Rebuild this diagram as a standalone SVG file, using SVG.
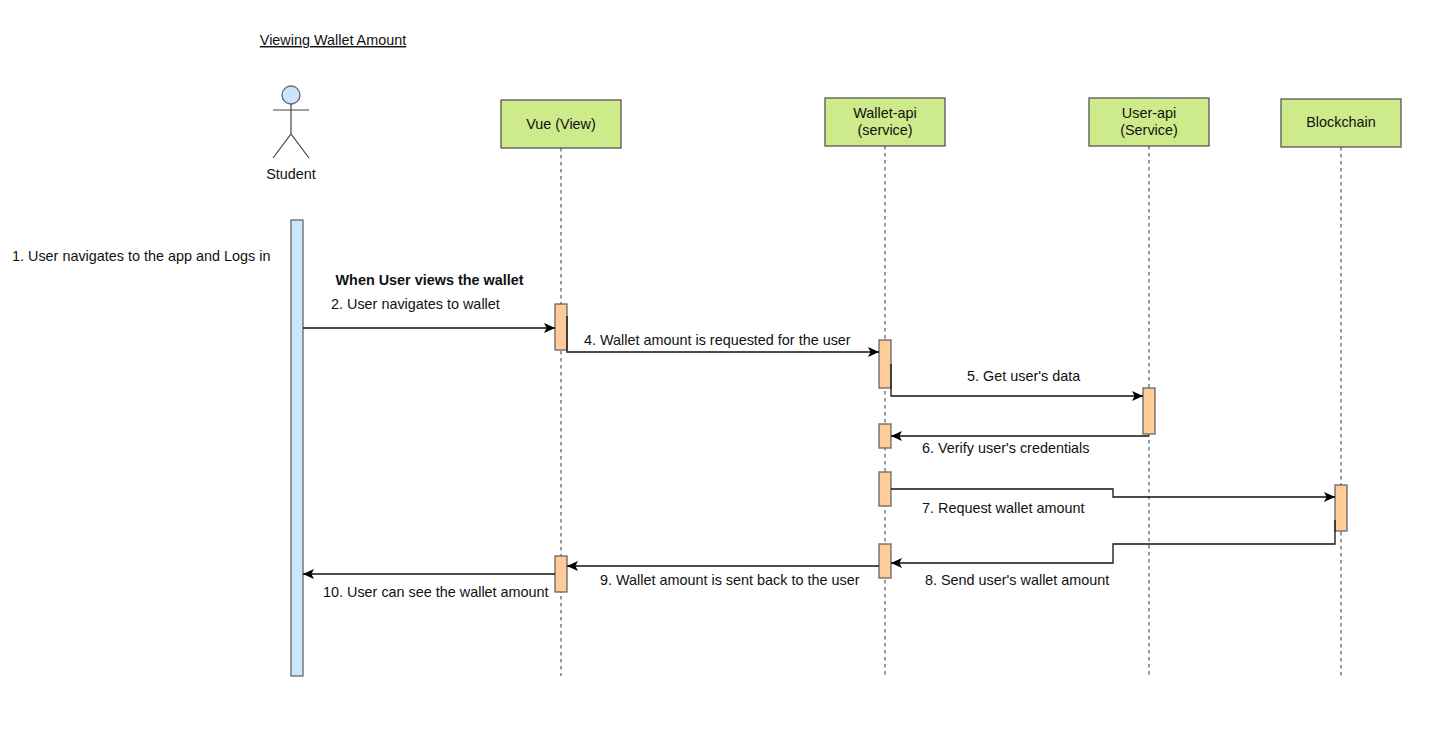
<svg xmlns="http://www.w3.org/2000/svg" width="1442" height="737" viewBox="0 0 1442 737">
<defs>
<marker id="arrow" markerUnits="userSpaceOnUse" markerWidth="14" markerHeight="14" refX="11" refY="7" orient="auto">
<path d="M0,2 L11,7 L0,12 L2.6,7 Z" fill="#000"/>
</marker>
</defs>
<style>
text{font-family:"Liberation Sans",Arial,sans-serif;font-size:14.4px;fill:#111}
.m{text-anchor:middle}
.head{fill:#cdeb8b;stroke:#555;stroke-width:1.3}
.life{stroke:#666;stroke-width:1.3;stroke-dasharray:3.5 3.5;fill:none}
.act{fill:#ffcc99;stroke:#666;stroke-width:1.3}
.actor{fill:#cce5ff;stroke:#666;stroke-width:1.3}
.stick{fill:none;stroke:#444;stroke-width:1.2}
.conn{fill:none;stroke:#111;stroke-width:1.3;marker-end:url(#arrow)}
</style>
<rect width="1442" height="737" fill="#fff"/>
<text id="title" x="333" y="45" class="m" text-decoration="underline">Viewing Wallet Amount</text>
<g id="student">
<circle cx="291" cy="95" r="9" class="actor"/>
<path class="stick" d="M291,104V134M273,110H309M273,158L291,134L309,158"/>
<text x="291" y="179" class="m">Student</text>
</g>
<g id="student-bar"><rect x="291" y="220" width="12" height="456" class="actor"/></g>
<g id="vue">
<line x1="561" y1="148" x2="561" y2="676" class="life"/>
<rect x="501" y="100" width="120" height="48" class="head"/>
<text x="561" y="129" class="m">Vue (View)</text>
<rect x="555" y="304" width="12" height="46" class="act"/>
<rect x="555" y="556" width="12" height="36" class="act"/>
</g>
<g id="wallet-api">
<line x1="885" y1="146" x2="885" y2="676" class="life"/>
<rect x="825" y="98" width="120" height="48" class="head"/>
<text x="885" y="118" class="m">Wallet-api</text>
<text x="885" y="135" class="m">(service)</text>
<rect x="879" y="340" width="12" height="48" class="act"/>
<rect x="879" y="424" width="12" height="24" class="act"/>
<rect x="879" y="472" width="12" height="34" class="act"/>
<rect x="879" y="544" width="12" height="34" class="act"/>
</g>
<g id="user-api">
<line x1="1149" y1="146" x2="1149" y2="676" class="life"/>
<rect x="1089" y="98" width="120" height="48" class="head"/>
<text x="1149" y="118" class="m">User-api</text>
<text x="1149" y="135" class="m">(Service)</text>
<rect x="1143" y="388" width="12" height="46" class="act"/>
</g>
<g id="blockchain">
<line x1="1341" y1="147" x2="1341" y2="676" class="life"/>
<rect x="1281" y="99" width="120" height="48" class="head"/>
<text x="1341" y="127" class="m">Blockchain</text>
<rect x="1335" y="485" width="12" height="46" class="act"/>
</g>
<g id="connectors">
<path class="conn" d="M303,328H555"/>
<path class="conn" d="M567,316V352H879"/>
<path class="conn" d="M891,364V396H1143"/>
<path class="conn" d="M1149,436H891"/>
<path class="conn" d="M891,489H1113V497H1335"/>
<path class="conn" d="M1335,520V544H1113V563H891"/>
<path class="conn" d="M879,566H567"/>
<path class="conn" d="M555,574H303"/>
</g>
<g id="labels">
<text x="12" y="261">1. User navigates to the app and Logs in</text>
<text x="429.5" y="285" class="m" font-weight="bold">When User views the wallet</text>
<text x="331" y="309">2. User navigates to wallet</text>
<text x="584" y="345">4. Wallet amount is requested for the user</text>
<text x="967" y="381">5. Get user's data</text>
<text x="922" y="453">6. Verify user's credentials</text>
<text x="922" y="513">7. Request wallet amount</text>
<text x="925" y="585">8. Send user's wallet amount</text>
<text x="600" y="585">9. Wallet amount is sent back to the user</text>
<text x="323" y="597">10. User can see the wallet amount</text>
</g>
</svg>
